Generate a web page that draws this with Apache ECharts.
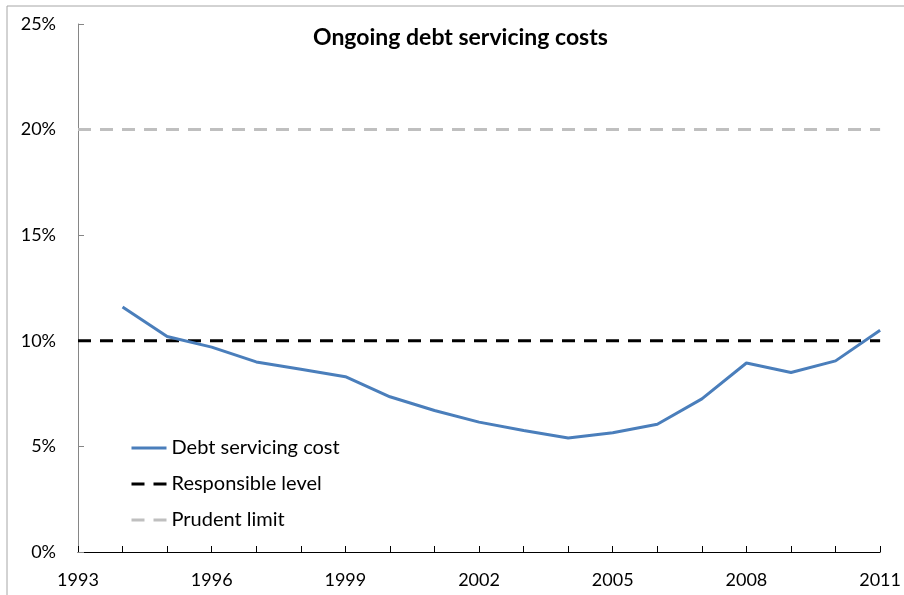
<!DOCTYPE html>
<html><head><meta charset="utf-8">
<script src="https://cdn.jsdelivr.net/npm/echarts@6/dist/echarts.min.js"></script>
<style>html,body{margin:0;padding:0;background:#fff}#c{width:904px;height:595px}</style>
</head><body><div id="c"></div>
<script>
const years = ['1993','1994','1995','1996','1997','1998','1999','2000','2001','2002','2003','2004','2005','2006','2007','2008','2009','2010','2011'];
const debtCost = [null,11.6,10.2,9.7,9.0,8.65,8.3,7.35,6.7,6.15,5.75,5.4,5.65,6.05,7.25,8.95,8.5,9.05,10.5];
const responsible = [10,10,10,10,10,10,10,10,10,10,10,10,10,10,10,10,10,10,10];
const prudent = [20,20,20,20,20,20,20,20,20,20,20,20,20,20,20,20,20,20,20];
const yTicks = [0,5,10,15,20,25];

const font = 'Lato, "Open Sans", sans-serif';
const chart = echarts.init(document.getElementById('c'), null, {renderer:'canvas'});
chart.setOption({
  animation:false,
  backgroundColor:'#fff',
  graphic:[{type:'rect',shape:{x:7,y:6,width:1200,height:1200},style:{fill:'none',stroke:'#a6a6a6',lineWidth:1}}],
  title:{text:'Ongoing debt servicing costs',left:308,top:21,textStyle:{fontFamily:font,fontWeight:'bold',fontSize:23,color:'#000'}},
  legend:{orient:'vertical',left:125,top:432,itemWidth:35,itemHeight:14,itemGap:14,
    itemStyle:{opacity:0},
    lineStyle:{width:3},
    textStyle:{fontFamily:font,fontSize:20,color:'#000',lineHeight:22},
    data:['Debt servicing cost','Responsible level','Prudent limit']},
  grid:{left:78,right:21,top:24,bottom:43},
  xAxis:{type:'category',data:years,boundaryGap:false,
    axisLine:{lineStyle:{color:'#000',width:1}},
    axisTick:{inside:true,length:6,interval:0,lineStyle:{color:'#000'}},
    axisLabel:{interval:2,margin:19,fontFamily:font,fontSize:18,color:'#000'},
    splitLine:{show:false}},
  yAxis:{type:'value',min:yTicks[0],max:yTicks[yTicks.length-1],interval:5,
    axisLine:{show:true,lineStyle:{color:'#868686'}},
    axisTick:{show:true,inside:true,length:6,lineStyle:{color:'#868686'}},
    axisLabel:{formatter:'{value}%',margin:22,fontFamily:font,fontSize:18,color:'#000'},
    splitLine:{show:false}},
  series:[
    {name:'Debt servicing cost',type:'line',data:debtCost,symbol:'none',z:3,
      lineStyle:{color:'#4a7ebb',width:3},itemStyle:{color:'#4a7ebb'}},
    {name:'Responsible level',type:'line',data:responsible,symbol:'none',z:2,
      lineStyle:{color:'#000',width:3,type:[13,9]},itemStyle:{color:'#000'}},
    {name:'Prudent limit',type:'line',data:prudent,symbol:'none',z:2,
      lineStyle:{color:'#bfbfbf',width:3,type:[13,9]},itemStyle:{color:'#bfbfbf'}}
  ]
});
</script></body></html>
